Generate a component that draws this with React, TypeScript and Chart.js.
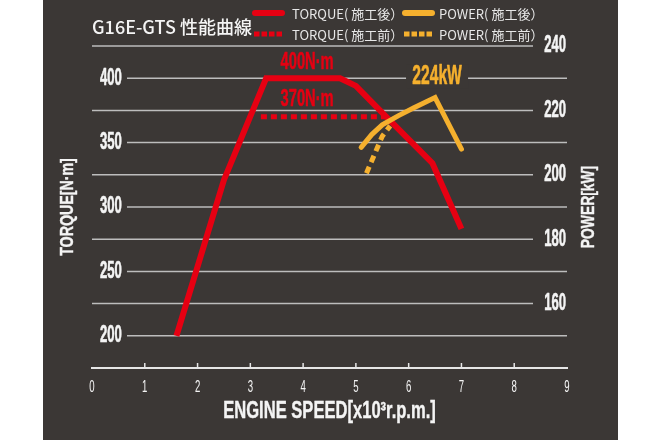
import React, { useEffect, useRef } from "react";
import { Chart, registerables } from "chart.js";

Chart.register(...registerables);

// ---------------- data ----------------
const rpmTorqueAfter = [1.6, 2.5, 3.3, 4.7, 5.0, 5.6, 6.45, 7.0];
const torqueAfter = [200, 321, 400, 400, 394, 369, 334, 283];
const rpmTorqueBefore = [3.2, 5.55];
const torqueBefore = [370, 370];
const rpmPowerAfter = [5.1, 5.3, 5.5, 5.8, 6.1, 6.5, 7.0];
const powerAfter = [208.5, 212.5, 215.5, 218.3, 220.8, 224, 208];
const rpmPowerBefore = [5.2, 5.5, 5.65];
const powerBefore = [200.5, 212, 215.2];

const torqueLabelTicks = [200, 250, 300, 350, 400];
const powerLabelTicks = [160, 180, 200, 220, 240];
const rpmLabelTicks = [0, 1, 2, 3, 4, 5, 6, 7, 8, 9];

const seriesNames = ["TORQUE( 施工後）", "TORQUE( 施工前）", "POWER( 施工後）", "POWER( 施工前）"];
const peakLabels = ["400N·m", "370N·m", "224kW"];
const titleText = "G16E-GTS 性能曲線";
const xTitle = "ENGINE SPEED[x10³r.p.m.]";
const yLeftTitle = "TORQUE[N·m]";
const yRightTitle = "POWER[kW]";

// ---------------- styles ----------------
const SANS = "'Liberation Sans', Arial, sans-serif";
const JP = "'Noto Sans CJK JP', 'Noto Sans', sans-serif";
const RED = "#e60012";
const ORANGE = "#f5b02e";
const PANEL = "#3b3735";
const GRID = "#bdbdbd";
const WHITE = "#f4f4f4";

const xy = (xs: number[], ys: number[]) => xs.map((x, i) => ({ x, y: ys[i] }));

function txt(
  ctx: CanvasRenderingContext2D,
  s: string,
  x: number,
  y: number,
  font: string,
  color: string,
  sx = 1,
  align: CanvasTextAlign = "left",
  rot = 0,
  stroke = 0
) {
  ctx.save();
  ctx.translate(x, y);
  if (rot) ctx.rotate(rot);
  ctx.scale(sx, 1);
  ctx.font = font;
  ctx.fillStyle = color;
  ctx.textAlign = align;
  ctx.textBaseline = "middle";
  ctx.fillText(s, 0, 0);
  if (stroke) {
    ctx.strokeStyle = color;
    ctx.lineWidth = stroke;
    ctx.lineJoin = "round";
    ctx.strokeText(s, 0, 0);
  }
  ctx.restore();
}

const decorPlugin = {
  id: "decor",
  beforeDraw(chart: any) {
    const { ctx, width, height } = chart;
    ctx.save();
    ctx.fillStyle = "#ffffff";
    ctx.fillRect(0, 0, width, height);
    ctx.fillStyle = PANEL;
    ctx.fillRect(43, 0, 575, height);
    ctx.restore();
  },
  beforeDatasetsDraw(chart: any) {
    const { ctx, chartArea } = chart;
    const { left, right, bottom, top } = chartArea;
    const xS = chart.scales.x;
    const yT = chart.scales.yT;
    const yP = chart.scales.yP;
    const midY = (top + bottom) / 2;

    // grid lines
    ctx.save();
    ctx.strokeStyle = GRID;
    ctx.lineWidth = 1.5;
    yT.ticks.forEach((t: any) => {
      if (t.value <= yT.min) return;
      const y = yT.getPixelForValue(t.value);
      const leftLabeled = torqueLabelTicks.includes(t.value);
      const rightLabeled = powerLabelTicks.some((v) => Math.abs(yP.getPixelForValue(v) - y) < 1);
      const x1 = leftLabeled ? left + 35 : left;
      const x2 = rightLabeled ? right - 34 : right;
      ctx.beginPath();
      ctx.moveTo(x1, y);
      ctx.lineTo(x2, y);
      ctx.stroke();
    });
    // upward tick marks on x axis
    ctx.strokeStyle = "#e6e6e6";
    ctx.lineWidth = 1.5;
    xS.ticks.forEach((t: any) => {
      if (t.value <= xS.min || t.value >= xS.max) return;
      const x = xS.getPixelForValue(t.value);
      ctx.beginPath();
      ctx.moveTo(x, bottom);
      ctx.lineTo(x, bottom - 5);
      ctx.stroke();
    });
    ctx.restore();

    // tick labels
    yT.ticks.forEach((t: any) => {
      if (!torqueLabelTicks.includes(t.value)) return;
      txt(ctx, String(t.value), left + 8, yT.getPixelForValue(t.value), `bold 23px ${SANS}`, WHITE, 0.57, "left", 0, 0.6);
    });
    yP.ticks.forEach((t: any) => {
      if (!powerLabelTicks.includes(t.value)) return;
      txt(ctx, String(t.value), right - 1, yP.getPixelForValue(t.value), `bold 23px ${SANS}`, WHITE, 0.57, "right", 0, 0.6);
    });
    xS.ticks.forEach((t: any) => {
      if (!rpmLabelTicks.includes(t.value)) return;
      txt(ctx, String(t.value), xS.getPixelForValue(t.value), bottom + 20, `16px ${SANS}`, WHITE, 0.6, "center");
    });

    // axis titles
    txt(ctx, yLeftTitle, 68, midY, `bold 18px ${SANS}`, WHITE, 0.79, "center", -Math.PI / 2, 0.4);
    txt(ctx, yRightTitle, 589, midY, `bold 18px ${SANS}`, WHITE, 0.77, "center", -Math.PI / 2, 0.4);
    txt(ctx, xTitle, (left + right) / 2, 412, `bold 23px ${SANS}`, WHITE, 0.72, "center", 0, 0.4);

    // chart title
    txt(ctx, titleText, left, 27, `500 18px ${JP}`, WHITE, 1, "left");

    // legend
    chart.data.datasets.forEach((ds: any, i: number) => {
      const col = Math.floor(i / 2);
      const row = i % 2;
      const sx = col ? 402 : 252;
      const tx = col ? 439 : 292;
      const y = row ? 34 : 13;
      ctx.save();
      ctx.strokeStyle = ds.borderColor;
      ctx.fillStyle = ds.borderColor;
      if (ds.borderDash && ds.borderDash.length) {
        for (let k = 0; k < 4; k++) {
          ctx.fillRect(sx + 2 + k * 7.5, y - 2.5, 5.5, 5);
        }
      } else {
        ctx.lineWidth = 6;
        ctx.lineCap = "round";
        ctx.beginPath();
        ctx.moveTo(sx + 3, y);
        ctx.lineTo(sx + 30, y);
        ctx.stroke();
      }
      ctx.restore();
      txt(ctx, ds.label, tx, y + 1, `13px ${JP}`, "#e8e8e8", 1, "left");
    });
  },
  afterDatasetsDraw(chart: any) {
    const { ctx } = chart;
    const xS = chart.scales.x;
    const yT = chart.scales.yT;
    const yP = chart.scales.yP;
    const plateauX = xS.getPixelForValue((rpmTorqueAfter[2] + rpmTorqueAfter[3]) / 2) + 4;
    const maxT = Math.max(...torqueAfter);
    const maxTB = Math.max(...torqueBefore);
    txt(ctx, peakLabels[0], plateauX, yT.getPixelForValue(maxT) - 16, `bold 23px ${SANS}`, RED, 0.64, "center", 0, 0.5);
    txt(ctx, peakLabels[1], plateauX, yT.getPixelForValue(maxTB) - 17, `bold 23px ${SANS}`, RED, 0.64, "center", 0, 0.5);

    const maxP = Math.max(...powerAfter);
    const iP = powerAfter.indexOf(maxP);
    const px = xS.getPixelForValue(rpmPowerAfter[iP]) + 2;
    const py = yP.getPixelForValue(maxP) - 21;
    ctx.save();
    ctx.fillStyle = PANEL;
    ctx.fillRect(px - 31, py - 12, 62, 24);
    ctx.restore();
    txt(ctx, peakLabels[2], px, py, `bold 28px ${SANS}`, ORANGE, 0.56, "center", 0, 0.6);
  },
};

export default function App() {
  const ref = useRef<HTMLCanvasElement | null>(null);

  useEffect(() => {
    document.body.style.margin = "0";
    const canvas = ref.current;
    if (!canvas) return;
    const chart = new Chart(canvas, {
      type: "line",
      data: {
        datasets: [
          {
            label: seriesNames[0],
            data: xy(rpmTorqueAfter, torqueAfter),
            yAxisID: "yT",
            borderColor: RED,
            backgroundColor: RED,
            borderWidth: 6,
            pointRadius: 0,
            borderJoinStyle: "miter",
            borderCapStyle: "butt",
            tension: 0,
            order: 1,
          },
          {
            label: seriesNames[1],
            data: xy(rpmTorqueBefore, torqueBefore),
            yAxisID: "yT",
            borderColor: RED,
            backgroundColor: RED,
            borderWidth: 5,
            borderDash: [6, 4],
            pointRadius: 0,
            borderCapStyle: "butt",
            tension: 0,
            order: 1,
          },
          {
            label: seriesNames[2],
            data: xy(rpmPowerAfter, powerAfter),
            yAxisID: "yP",
            borderColor: ORANGE,
            backgroundColor: ORANGE,
            borderWidth: 5,
            pointRadius: 0,
            borderJoinStyle: "miter",
            borderCapStyle: "round",
            tension: 0,
            order: 0,
          },
          {
            label: seriesNames[3],
            data: xy(rpmPowerBefore, powerBefore),
            yAxisID: "yP",
            borderColor: ORANGE,
            backgroundColor: ORANGE,
            borderWidth: 5,
            borderDash: [7, 5],
            pointRadius: 0,
            borderCapStyle: "butt",
            tension: 0,
            order: 0,
          },
        ],
      },
      options: {
        animation: false,
        responsive: false,
        maintainAspectRatio: false,
        layout: { padding: { top: 46, left: 0, right: 0, bottom: 0 } },
        plugins: {
          legend: { display: false },
          tooltip: { enabled: false },
          title: { display: false },
        },
        scales: {
          x: {
            type: "linear",
            min: 0,
            max: 9,
            ticks: { display: false, stepSize: 1 },
            grid: { display: false },
            border: { display: true, color: "#e6e6e6", width: 2 },
            title: { display: false, text: xTitle },
            afterFit: (s: any) => {
              s.height = 72;
            },
          },
          yT: {
            type: "linear",
            position: "left",
            min: 175,
            max: 425,
            ticks: { display: false, stepSize: 25 },
            grid: { display: false },
            border: { display: false },
            title: { display: false, text: yLeftTitle },
            afterFit: (s: any) => {
              s.width = 92;
            },
          },
          yP: {
            type: "linear",
            position: "right",
            min: 140,
            max: 240,
            ticks: { display: false, stepSize: 20 },
            grid: { display: false },
            border: { display: false },
            title: { display: false, text: yRightTitle },
            afterFit: (s: any) => {
              s.width = 93;
            },
          },
        },
      } as any,
      plugins: [decorPlugin],
    });
    return () => chart.destroy();
  }, []);

  return (
    <div style={{ width: 660, height: 440, background: "#fff" }}>
      <canvas ref={ref} width={660} height={440} style={{ display: "block" }} />
    </div>
  );
}
